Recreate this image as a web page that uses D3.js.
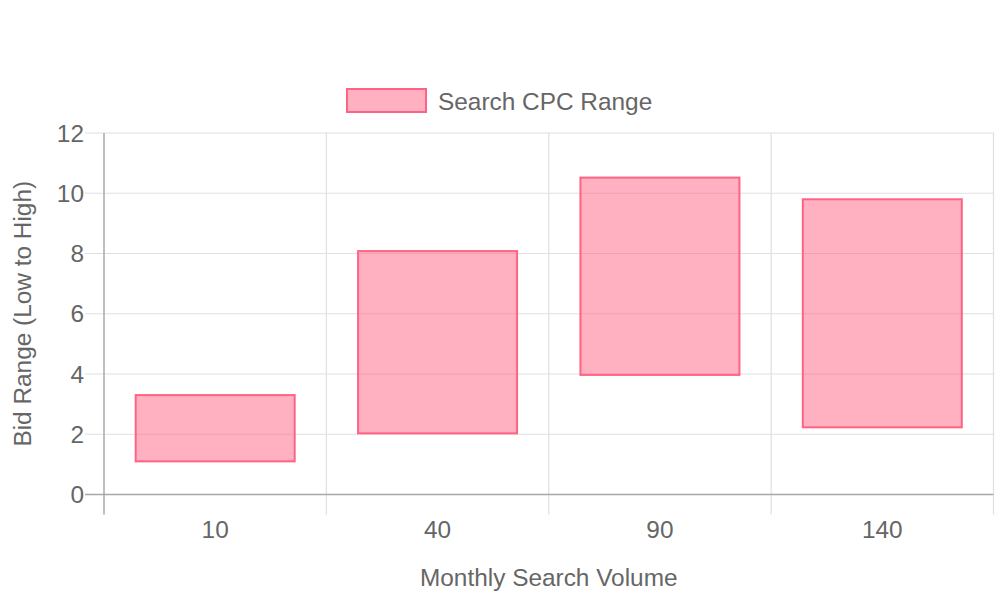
<!DOCTYPE html>
<html><head><meta charset="utf-8">
<script src="https://cdn.jsdelivr.net/npm/d3@7"></script>
<style>body{margin:0;background:#fff}svg{display:block}text{font-family:"Liberation Sans",Arial,sans-serif;fill:#666}</style>
</head><body>
<svg id="c" width="1000" height="600"></svg>
<script>
const categories = ["10", "40", "90", "140"];
const lowValues = [1.1, 2.03, 3.97, 2.23];
const highValues = [3.3, 8.08, 10.52, 9.8];
const yTicks = [0, 2, 4, 6, 8, 10, 12];
const seriesName = "Search CPC Range";
const xTitle = "Monthly Search Volume";
const yTitle = "Bid Range (Low to High)";

const svg = d3.select("#c");
const L = 104, R = 993.5, T = 133, B = 494.5;
const FS = 24.4;
const x = d3.scaleBand().domain(categories).range([L, R]);
const y = d3.scaleLinear().domain([0, 12]).range([B, T]);
const grid = "#e0e0e0", axisCol = "#a8a8a8";

// horizontal grid
yTicks.forEach(t => {
  if (t === 0) return;
  svg.append("line").attr("x1", L - 19).attr("x2", R).attr("y1", y(t)).attr("y2", y(t)).attr("stroke", grid).attr("stroke-width", 1.2);
});
// vertical grid (band boundaries)
const bounds = categories.map(c => x(c)).concat([R]);
bounds.forEach((bx, i) => {
  if (i === 0) return;
  svg.append("line").attr("x1", bx).attr("x2", bx).attr("y1", T).attr("y2", B + 20).attr("stroke", grid).attr("stroke-width", 1.2);
});
// axes lines
svg.append("line").attr("x1", L).attr("x2", L).attr("y1", T).attr("y2", B + 20).attr("stroke", axisCol).attr("stroke-width", 1.5);
svg.append("line").attr("x1", L - 19).attr("x2", R).attr("y1", y(0)).attr("y2", y(0)).attr("stroke", axisCol).attr("stroke-width", 1.5);

// y tick labels
yTicks.forEach(t => {
  svg.append("text").attr("x", 84).attr("y", y(t)).attr("dy", "0.35em").attr("text-anchor", "end").attr("font-size", FS).text(t);
});
// x tick labels
categories.forEach(c => {
  svg.append("text").attr("x", x(c) + x.bandwidth() / 2).attr("y", 529).attr("dy", "0.35em").attr("text-anchor", "middle").attr("font-size", FS).text(c);
});

// bars
const bw = x.bandwidth() * 0.715;
svg.append("g").selectAll("rect").data(categories).join("rect")
  .attr("x", (c) => x(c) + (x.bandwidth() - bw) / 2)
  .attr("y", (c, i) => y(highValues[i]))
  .attr("width", bw)
  .attr("height", (c, i) => y(lowValues[i]) - y(highValues[i]))
  .attr("fill", "rgba(255,99,132,0.5)")
  .attr("stroke", "rgb(255,99,132)")
  .attr("stroke-width", 2);

// legend
svg.append("rect").attr("x", 347).attr("y", 89).attr("width", 79).attr("height", 23)
  .attr("fill", "rgba(255,99,132,0.5)").attr("stroke", "rgb(255,99,132)").attr("stroke-width", 2);
svg.append("text").attr("x", 438).attr("y", 101).attr("dy", "0.35em").attr("font-size", FS).text(seriesName);

// axis titles
svg.append("text").attr("x", (L + R) / 2).attr("y", 577).attr("dy", "0.35em").attr("text-anchor", "middle").attr("font-size", FS).text(xTitle);
svg.append("text").attr("transform", `translate(22,${(T + B) / 2}) rotate(-90)`).attr("dy", "0.35em").attr("text-anchor", "middle").attr("font-size", FS).text(yTitle);
</script>
</body></html>
